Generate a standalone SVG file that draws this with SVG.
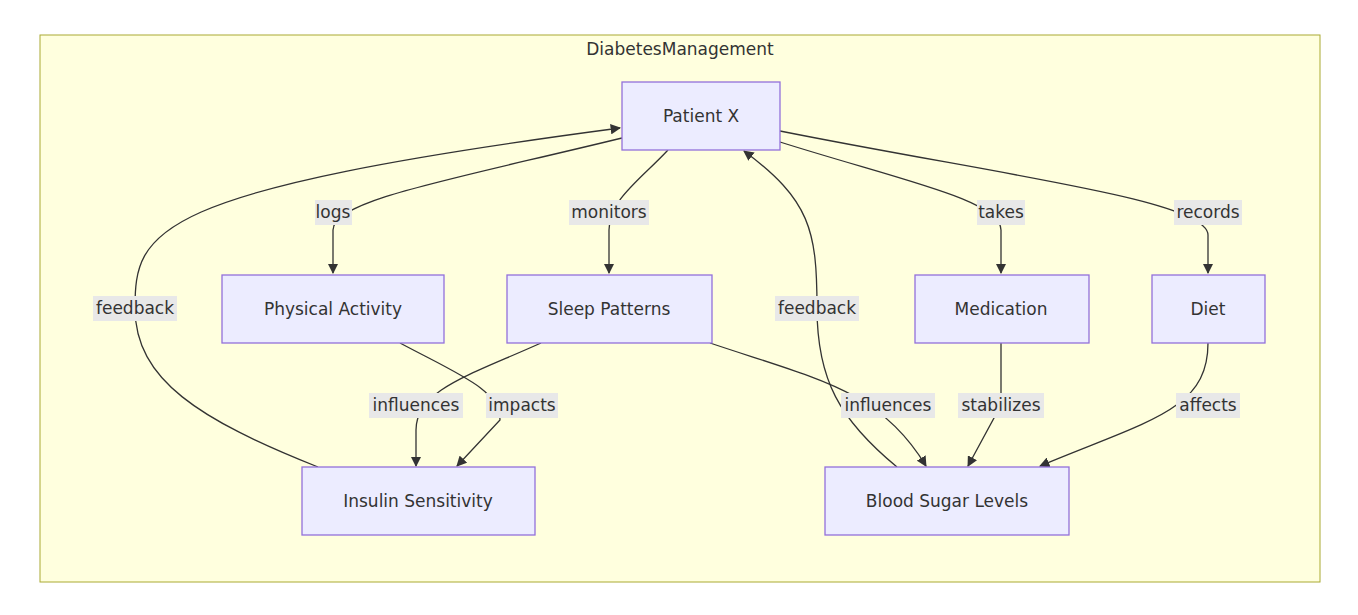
<svg xmlns="http://www.w3.org/2000/svg" width="1358" height="615" viewBox="0 0 1358 615">
<style>
.n{fill:#ececff;stroke:#9370db;stroke-width:1.3}
.t{font-family:"DejaVu Sans",sans-serif;font-size:17px;fill:#333;text-anchor:middle;dominant-baseline:central}
.e{fill:none;stroke:#333;stroke-width:1.3;marker-end:url(#a)}
.lb{fill:#e8e8e8}
</style>
<defs><marker id="a" viewBox="0 0 10 10" refX="9" refY="5" markerWidth="8" markerHeight="8" orient="auto"><path d="M0,0L10,5L0,10z" fill="#333"/></marker></defs>
<rect width="1358" height="615" fill="#fff"/>
<g id="cluster"><rect x="40" y="35" width="1280" height="547" fill="#ffffde" stroke="#aaaa33"/><text class="t" x="680" y="49">DiabetesManagement</text></g>
<g id="edges">
<path class="e" d="M622,138 C450,180 333,200 333,230 L333,273"/>
<path class="e" d="M668,150 C640,180 609,200 609,230 L609,273"/>
<path class="e" d="M780,142 C900,180 1001,200 1001,230 L1001,273"/>
<path class="e" d="M780,131 C1000,175 1208,200 1208,235 L1208,273"/>
<path class="e" d="M318,467 C200,420 135,380 135,308 C135,230 150,190 620,128"/>
<path class="e" d="M897,467 C840,420 817,380 817,308 C817,230 810,200 744,151"/>
<path class="e" d="M400,343 C460,375 500,390 500,420 L457,466"/>
<path class="e" d="M541,343 C470,375 416,390 416,430 L416,466"/>
<path class="e" d="M710,343 C820,380 880,390 926,466"/>
<path class="e" d="M1001,343 L1001,405 L968,466"/>
<path class="e" d="M1208,343 C1208,410 1150,420 1040,466"/>
</g>
<g id="labels">
<rect class="lb" x="315" y="200" width="37" height="25"/><text class="t" x="333" y="212">logs</text>
<rect class="lb" x="569" y="200" width="80" height="25"/><text class="t" x="609" y="212">monitors</text>
<rect class="lb" x="977" y="200" width="48" height="25"/><text class="t" x="1001" y="212">takes</text>
<rect class="lb" x="1174" y="200" width="68" height="25"/><text class="t" x="1208" y="212">records</text>
<rect class="lb" x="93" y="296" width="84" height="25"/><text class="t" x="135" y="308">feedback</text>
<rect class="lb" x="775" y="296" width="84" height="25"/><text class="t" x="817" y="308">feedback</text>
<rect class="lb" x="369" y="393" width="94" height="25"/><text class="t" x="416" y="405">influences</text>
<rect class="lb" x="486" y="393" width="72" height="25"/><text class="t" x="522" y="405">impacts</text>
<rect class="lb" x="841" y="393" width="94" height="25"/><text class="t" x="888" y="405">influences</text>
<rect class="lb" x="958" y="393" width="86" height="25"/><text class="t" x="1001" y="405">stabilizes</text>
<rect class="lb" x="1176" y="393" width="64" height="25"/><text class="t" x="1208" y="405">affects</text>
</g>
<g id="patient"><rect class="n" x="622" y="82" width="158" height="68"/><text class="t" x="701" y="116">Patient X</text></g>
<g id="physical"><rect class="n" x="222" y="275" width="222" height="68"/><text class="t" x="333" y="309">Physical Activity</text></g>
<g id="sleep"><rect class="n" x="507" y="275" width="205" height="68"/><text class="t" x="609" y="309">Sleep Patterns</text></g>
<g id="medication"><rect class="n" x="915" y="275" width="174" height="68"/><text class="t" x="1001" y="309">Medication</text></g>
<g id="diet"><rect class="n" x="1152" y="275" width="113" height="68"/><text class="t" x="1208" y="309">Diet</text></g>
<g id="insulin"><rect class="n" x="302" y="467" width="233" height="68"/><text class="t" x="418" y="501">Insulin Sensitivity</text></g>
<g id="bloodsugar"><rect class="n" x="825" y="467" width="244" height="68"/><text class="t" x="947" y="501">Blood Sugar Levels</text></g>
</svg>
